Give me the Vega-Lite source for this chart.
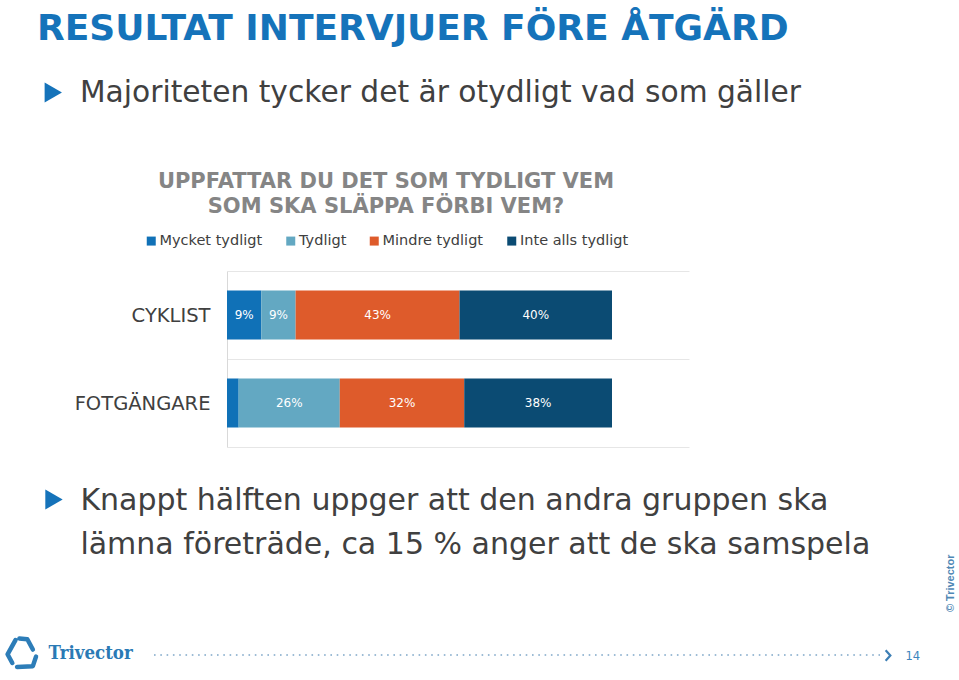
{
  "$schema": "https://vega.github.io/schema/vega-lite/v6.json",
  "width": 462,
  "height": 176,
  "autosize": {"type": "none"},
  "padding": {"left": 227, "top": 271, "right": 270, "bottom": 233},
  "background": "#ffffff",
  "config": {"view": {"stroke": null}, "font": "DejaVu Sans"},
  "data": {
    "values": [
      {"grupp": "CYKLIST", "svar": "Mycket tydligt", "andel": 0.09, "ordning": 1},
      {"grupp": "CYKLIST", "svar": "Tydligt", "andel": 0.09, "ordning": 2},
      {"grupp": "CYKLIST", "svar": "Mindre tydligt", "andel": 0.43, "ordning": 3},
      {"grupp": "CYKLIST", "svar": "Inte alls tydligt", "andel": 0.40, "ordning": 4},
      {"grupp": "FOTGÄNGARE", "svar": "Mycket tydligt", "andel": 0.03, "ordning": 1},
      {"grupp": "FOTGÄNGARE", "svar": "Tydligt", "andel": 0.26, "ordning": 2},
      {"grupp": "FOTGÄNGARE", "svar": "Mindre tydligt", "andel": 0.32, "ordning": 3},
      {"grupp": "FOTGÄNGARE", "svar": "Inte alls tydligt", "andel": 0.38, "ordning": 4}
    ]
  },
  "layer": [
    {
      "mark": {"type": "bar", "height": {"band": 0.557}},
      "encoding": {
        "y": {
          "field": "grupp", "type": "nominal", "sort": ["CYKLIST", "FOTGÄNGARE"],
          "scale": {"paddingInner": 0, "paddingOuter": 0},
          "axis": {
            "title": null, "ticks": false, "labelFont": "DejaVu Sans", "labelFontSize": 19.5,
            "labelColor": "#404040", "labelPadding": 17, "domainColor": "#D9D9D9",
            "grid": true, "gridColor": "#E6E6E6", "tickBand": "extent"
          }
        },
        "x": {
          "field": "andel", "type": "quantitative", "stack": "normalize",
          "scale": {"domain": [0, 1.2], "nice": false}, "axis": null
        },
        "color": {
          "field": "svar", "type": "nominal",
          "scale": {
            "domain": ["Mycket tydligt", "Tydligt", "Mindre tydligt", "Inte alls tydligt"],
            "range": ["#1071B7", "#63A8C2", "#DE5B2B", "#0B4B73"]
          },
          "legend": {
            "orient": "none", "legendX": -83, "legendY": -100.3, "direction": "horizontal", "columns": 4,
            "title": ["UPPFATTAR DU DET SOM TYDLIGT VEM", "SOM SKA SLÄPPA FÖRBI VEM?"],
            "titleFont": "DejaVu Sans", "titleFontSize": 21, "titleFontWeight": "bold", "titleColor": "#858585",
            "titleAnchor": "middle", "titleAlign": "center", "titleLineHeight": 25, "titlePadding": 17, "titleLimit": 800,
            "symbolType": "square", "symbolSize": 81, "symbolStrokeWidth": 0,
            "labelFont": "DejaVu Sans", "labelFontSize": 14.5, "labelColor": "#404040", "labelOffset": 1,
            "labelLimit": 400, "columnPadding": 20.5, "padding": 0, "offset": 0
          }
        },
        "order": {"field": "ordning", "type": "quantitative"}
      }
    },
    {
      "mark": {"type": "text", "color": "#ffffff", "font": "DejaVu Sans", "fontSize": 12, "baseline": "middle", "align": "center"},
      "encoding": {
        "y": {"field": "grupp", "type": "nominal", "sort": ["CYKLIST", "FOTGÄNGARE"]},
        "x": {"field": "andel", "type": "quantitative", "stack": "normalize", "bandPosition": 0.5, "scale": {"domain": [0, 1.2], "nice": false}},
        "detail": {"field": "svar", "type": "nominal"},
        "order": {"field": "ordning", "type": "quantitative"},
        "text": {"condition": {"test": "datum.andel < 0.05", "value": ""}, "field": "andel", "type": "quantitative", "format": ".0%"}
      }
    },
    {
      "data": {"values": [{"rad": "RESULTAT INTERVJUER FÖRE ÅTGÄRD"}]},
      "mark": {"type": "text", "font": "DejaVu Sans", "fontSize": 36, "fontWeight": "bold", "color": "#1573BA", "align": "left", "baseline": "alphabetic", "xOffset": -421, "yOffset": -319.5},
      "encoding": {"text": {"field": "rad"}}
    },
    {
      "data": {"values": [{"punkt": 1}]},
      "mark": {"type": "point", "shape": "triangle-right", "filled": true, "color": "#1573BA", "opacity": 1, "size": 400, "xOffset": -404.7, "yOffset": -266.5},
      "encoding": {}
    },
    {
      "data": {"values": [{"rad": "Majoriteten tycker det är otydligt vad som gäller"}]},
      "mark": {"type": "text", "font": "DejaVu Sans", "fontSize": 29.7, "color": "#404040", "align": "left", "baseline": "alphabetic", "xOffset": -378, "yOffset": -257.3},
      "encoding": {"text": {"field": "rad"}}
    },
    {
      "data": {"values": [{"punkt": 2}]},
      "mark": {"type": "point", "shape": "triangle-right", "filled": true, "color": "#1573BA", "opacity": 1, "size": 400, "xOffset": -404, "yOffset": 140.5},
      "encoding": {}
    },
    {
      "data": {"values": [{"rad": ["Knappt hälften uppger att den andra gruppen ska", "lämna företräde, ca 15 % anger att de ska samspela"]}]},
      "mark": {"type": "text", "font": "DejaVu Sans", "fontSize": 30, "color": "#404040", "align": "left", "baseline": "alphabetic", "lineHeight": 44, "xOffset": -377.6, "yOffset": 150.5},
      "encoding": {"text": {"field": "rad"}}
    },
    {
      "data": {"values": [{"logo": "Trivector"}]},
      "mark": {"type": "point", "shape": "M-0.35,-0.85L-0.85,0.05L-0.55,0.6M-0.25,0.85L0.75,0.8L0.95,0.2M0.75,-0.25L0.4,-0.9L-0.1,-0.95", "filled": false, "stroke": "#2D7DB8", "strokeWidth": 4.5, "strokeCap": "round", "strokeJoin": "round", "opacity": 1, "size": 1000, "xOffset": -437, "yOffset": 294.5},
      "encoding": {}
    },
    {
      "data": {"values": [{"rad": "Trivector"}]},
      "mark": {"type": "text", "font": "DejaVu Serif Condensed", "fontSize": 18.5, "fontWeight": "bold", "color": "#2A7AB5", "align": "left", "baseline": "alphabetic", "xOffset": -409.4, "yOffset": 300.3},
      "encoding": {"text": {"field": "rad"}}
    },
    {
      "data": {"values": [{"linje": "sidfot"}]},
      "mark": {"type": "rule", "color": "#7DA6C8", "strokeWidth": 1.6, "strokeDash": [1.6, 4.7], "xOffset": -73, "x2Offset": 191, "yOffset": 296},
      "encoding": {
        "x": {"datum": 0, "type": "quantitative", "scale": {"domain": [0, 1.2], "nice": false}},
        "x2": {"datum": 1.2}
      }
    },
    {
      "data": {"values": [{"pil": 1}]},
      "mark": {"type": "point", "shape": "M-0.45,-1L0.45,0L-0.45,1", "filled": false, "stroke": "#3D7FB5", "strokeWidth": 2.2, "opacity": 1, "size": 110, "xOffset": 430, "yOffset": 296.4},
      "encoding": {}
    },
    {
      "data": {"values": [{"rad": "14"}]},
      "mark": {"type": "text", "font": "DejaVu Sans", "fontSize": 11.5, "color": "#3D85BD", "align": "left", "baseline": "alphabetic", "xOffset": 447.5, "yOffset": 301},
      "encoding": {"text": {"field": "rad"}}
    },
    {
      "data": {"values": [{"rad": "© Trivector"}]},
      "mark": {"type": "text", "font": "Liberation Sans", "fontSize": 11, "fontWeight": "bold", "color": "#4F88B5", "align": "center", "baseline": "middle", "angle": 270, "xOffset": 493, "yOffset": 224.3},
      "encoding": {"text": {"field": "rad"}}
    }
  ]
}
